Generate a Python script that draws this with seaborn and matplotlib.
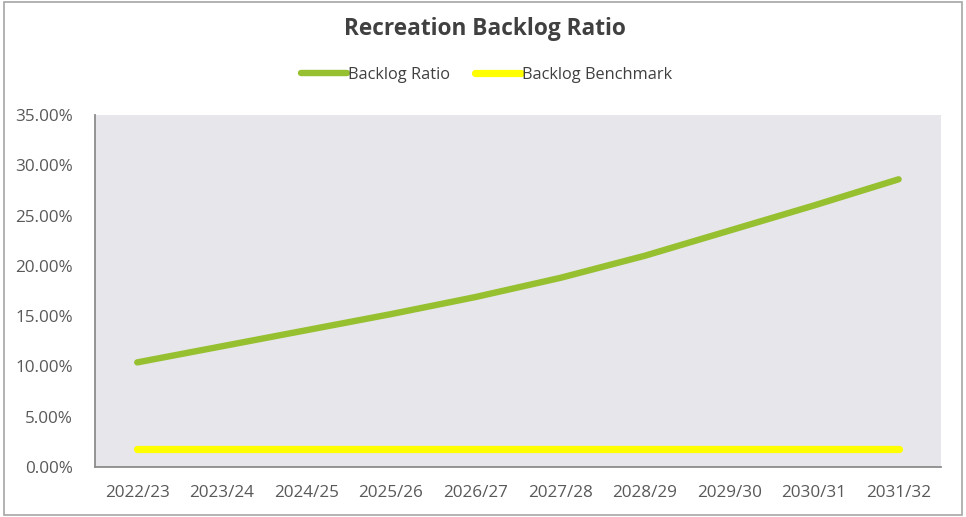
import pandas as pd
import matplotlib.pyplot as plt
import seaborn as sns
from matplotlib.ticker import PercentFormatter

# Data
years = ['2022/23', '2023/24', '2024/25', '2025/26', '2026/27',
         '2027/28', '2028/29', '2029/30', '2030/31', '2031/32']
backlog_ratio = [10.4, 12.0, 13.6, 15.2, 16.9, 18.8, 21.0, 23.5, 26.0, 28.6]
backlog_benchmark = [1.8] * 10

df = pd.DataFrame({'year': years, 'ratio': backlog_ratio, 'benchmark': backlog_benchmark})

sns.set_theme(style='white')
plt.rcParams['font.family'] = ['Open Sans', 'DejaVu Sans']

fig = plt.figure(figsize=(9.66, 5.17), dpi=100)
ax = fig.add_axes([0.0983, 0.0967, 0.8757, 0.681])
ax.set_facecolor('#e7e6eb')

sns.lineplot(data=df, x='year', y='ratio', ax=ax, color='#96c02f', linewidth=4.6,
             solid_capstyle='round', label='Backlog Ratio', sort=False)
sns.lineplot(data=df, x='year', y='benchmark', ax=ax, color='#ffff00', linewidth=5.2,
             solid_capstyle='round', label='Backlog Benchmark', sort=False)

ax.set_xlim(-0.5, len(years) - 0.5)
ax.set_ylim(0, 35)
ax.set_yticks(range(0, 36, 5))
ax.yaxis.set_major_formatter(PercentFormatter(decimals=2))
ax.set_xlabel('')
ax.set_ylabel('')
ax.tick_params(axis='both', length=0, labelsize=12.3, labelcolor='#595959')
ax.tick_params(axis='x', pad=13)
ax.tick_params(axis='y', pad=16)

for side in ['top', 'right']:
    ax.spines[side].set_visible(False)
for side in ['left', 'bottom']:
    ax.spines[side].set_color('#8c8c8c')
    ax.spines[side].set_linewidth(1.3)

fig.text(0.502, 0.944, 'Recreation Backlog Ratio', ha='center', va='center',
         fontsize=16.3, fontweight='bold', color='#404040')
leg = ax.legend(loc='center', bbox_to_anchor=(0.463, 1.113), ncol=2, frameon=False,
                fontsize=11.8, handlelength=2.8, handletextpad=0.1, columnspacing=1.5)
for t in leg.get_texts():
    t.set_color('#404040')

# outer frame like the screenshot
fig.add_artist(plt.Rectangle((0.004, 0.004), 0.992, 0.992, transform=fig.transFigure,
                             fill=False, edgecolor='#a6a6a6', linewidth=1.2))

fig.savefig('out.png', dpi=100)
